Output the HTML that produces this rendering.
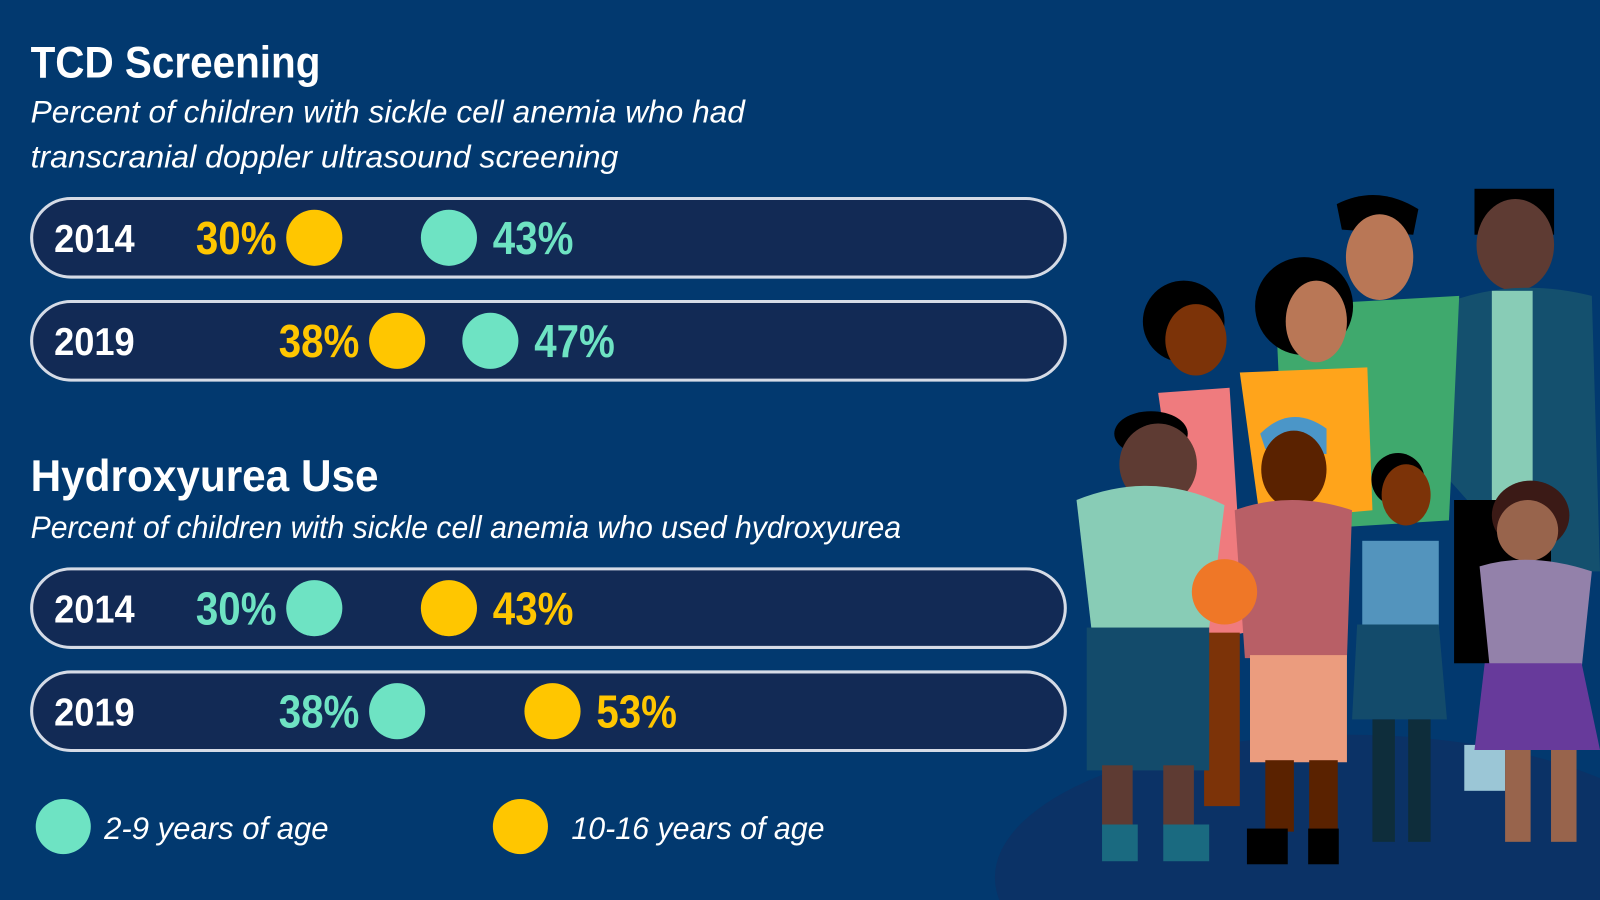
<!DOCTYPE html>
<html><head><meta charset="utf-8"><style>
html,body{margin:0;padding:0;background:#02396f;width:1600px;height:900px;overflow:hidden}
svg{display:block}
.t{font-family:"Liberation Sans Narrow","Liberation Sans",sans-serif;font-weight:bold}
.s{font-family:"Liberation Sans",sans-serif;font-style:italic;fill:#fff}
</style></head><body>
<svg id="c" width="1600" height="900" viewBox="0 0 1568 882" xmlns="http://www.w3.org/2000/svg">
<rect width="1568" height="882" fill="#02396f"/>
<text x="30" y="76" class="t" fill="#fff" font-size="44" textLength="284" lengthAdjust="spacingAndGlyphs">TCD Screening</text>
<text x="30" y="120" class="s" font-size="31" textLength="700" lengthAdjust="spacingAndGlyphs">Percent of children with sickle cell anemia who had</text>
<text x="30" y="164" class="s" font-size="31" textLength="576" lengthAdjust="spacingAndGlyphs">transcranial doppler ultrasound screening</text>
<text x="30" y="481" class="t" fill="#fff" font-size="44" textLength="341" lengthAdjust="spacingAndGlyphs">Hydroxyurea Use</text>
<text x="30" y="527" class="s" font-size="31" textLength="853" lengthAdjust="spacingAndGlyphs">Percent of children with sickle cell anemia who used hydroxyurea</text>
<g id="rows"></g>
<circle cx="62" cy="810" r="27" fill="#6ee3c3"/>
<text x="102" y="822" class="s" font-size="31" textLength="220" lengthAdjust="spacingAndGlyphs">2-9 years of age</text>
<circle cx="510" cy="810" r="27" fill="#ffc600"/>
<text x="560" y="822" class="s" font-size="31" textLength="248" lengthAdjust="spacingAndGlyphs">10-16 years of age</text>
<g>
<ellipse cx="1320" cy="860" rx="345" ry="140" fill="#0b3266"/>
<rect x="1445" y="185" width="78" height="45" fill="#000"/>
<ellipse cx="1485" cy="240" rx="38" ry="45" fill="#5e3b33"/>
<path d="M1410 300 Q1480 270 1560 290 L1568 560 L1500 560 L1420 470 Z" fill="#14506e"/>
<rect x="1462" y="285" width="40" height="210" fill="#88ccb6"/>
<rect x="1425" y="490" width="95" height="160" fill="#000"/>
<rect x="1435" y="730" width="40" height="45" fill="#9bc6d6"/>
<path d="M1310 200 Q1350 180 1390 205 L1385 230 L1315 225 Z" fill="#000"/>
<ellipse cx="1352" cy="252" rx="33" ry="42" fill="#b97756"/>
<path d="M1250 300 L1430 290 L1420 510 L1260 520 Z" fill="#3fa96d"/>
<circle cx="1278" cy="300" r="48" fill="#000"/>
<ellipse cx="1290" cy="315" rx="30" ry="40" fill="#b97756"/>
<path d="M1215 365 L1340 360 L1345 500 L1235 510 Z" fill="#ffa41b"/>
<circle cx="1160" cy="315" r="40" fill="#000"/>
<ellipse cx="1172" cy="333" rx="30" ry="35" fill="#7c3308"/>
<path d="M1135 385 L1205 380 L1220 620 L1170 630 Z" fill="#ef7b7e"/>
<rect x="1180" y="620" width="35" height="170" fill="#7c3308"/>
<ellipse cx="1128" cy="425" rx="36" ry="22" fill="#000"/>
<ellipse cx="1135" cy="455" rx="38" ry="40" fill="#5e3b33"/>
<path d="M1055 490 Q1130 460 1200 495 L1185 615 L1070 620 Z" fill="#88ccb6"/>
<rect x="1065" y="615" width="120" height="140" fill="#134b6b"/>
<rect x="1080" y="750" width="30" height="60" fill="#5e3b33"/>
<rect x="1140" y="750" width="30" height="60" fill="#5e3b33"/>
<rect x="1080" y="808" width="35" height="36" fill="#1a6a80"/>
<rect x="1140" y="808" width="45" height="36" fill="#1a6a80"/>
<path d="M1235 425 Q1265 395 1300 420 L1300 445 L1240 440 Z" fill="#4b96c8"/>
<ellipse cx="1268" cy="460" rx="32" ry="38" fill="#5a2200"/>
<path d="M1210 500 Q1265 480 1325 500 L1320 645 L1220 645 Z" fill="#b85f66"/>
<circle cx="1200" cy="580" r="32" fill="#ef7727"/>
<rect x="1225" y="642" width="95" height="105" fill="#eb9c7e"/>
<rect x="1240" y="745" width="28" height="70" fill="#5a2200"/>
<rect x="1283" y="745" width="28" height="70" fill="#5a2200"/>
<rect x="1222" y="812" width="40" height="35" fill="#000"/>
<rect x="1282" y="812" width="30" height="35" fill="#000"/>
<circle cx="1370" cy="470" r="26" fill="#000"/>
<ellipse cx="1378" cy="485" rx="24" ry="30" fill="#7c3308"/>
<rect x="1335" y="530" width="75" height="85" fill="#5394bd"/>
<path d="M1330 612 L1410 612 L1418 705 L1325 705 Z" fill="#134b6b"/>
<rect x="1345" y="705" width="22" height="120" fill="#0e2d3b"/>
<rect x="1380" y="705" width="22" height="120" fill="#0e2d3b"/>
<ellipse cx="1500" cy="505" rx="38" ry="34" fill="#3b1a16"/>
<ellipse cx="1497" cy="520" rx="30" ry="30" fill="#98644c"/>
<path d="M1450 555 Q1500 540 1560 560 L1550 655 L1460 655 Z" fill="#9381aa"/>
<path d="M1455 650 L1550 650 L1568 735 L1445 735 Z" fill="#673a9b"/>
<rect x="1475" y="735" width="25" height="90" fill="#98644c"/>
<rect x="1520" y="735" width="25" height="90" fill="#98644c"/>
</g>
</svg>
<script>
const years = ["2014","2019","2014","2019"];
const rowMetric = ["tcd","tcd","hydroxyurea","hydroxyurea"];
const young = [43,47,30,38];   // 2-9 years
const old = [30,38,43,53];     // 10-16 years
const YELLOW="#ffc600", TEAL="#6ee3c3";
const rowY=[233,334,596,697];
const xs = p => 3.5 + 10.15*p;
const NS="http://www.w3.org/2000/svg";
const g=document.getElementById("rows");
function mk(tag,attrs){const e=document.createElementNS(NS,tag);for(const k in attrs)e.setAttribute(k,attrs[k]);g.appendChild(e);return e;}
years.forEach((yr,i)=>{
  const cy=rowY[i];
  const pill=mk("rect",{x:31,y:cy-38.5,width:1013,height:77,rx:38.5,fill:"#122a55",stroke:"#d5dbe6","stroke-width":3});
  
  
  const yl=mk("text",{x:53,y:cy+14,class:"t",fill:"#fff","font-size":38,textLength:79,lengthAdjust:"spacingAndGlyphs"});
  yl.textContent=yr;
  
  
  const vals=[{v:young[i],c:TEAL,n:"2-9"},{v:old[i],c:YELLOW,n:"10-16"}].sort((a,b)=>a.v-b.v);
  vals.forEach((d,j)=>{
    const cx=xs(d.v);
    const c=mk("circle",{cx:cx,cy:cy,r:27.5,fill:d.c});
    
    
    const t=mk("text",{x:j==0?cx-116:cx+43,y:cy+16,class:"t",fill:d.c,"font-size":45,textLength:79,lengthAdjust:"spacingAndGlyphs"});
    t.textContent=d.v+"%";
    
    
  });
});
</script>
</body></html>
